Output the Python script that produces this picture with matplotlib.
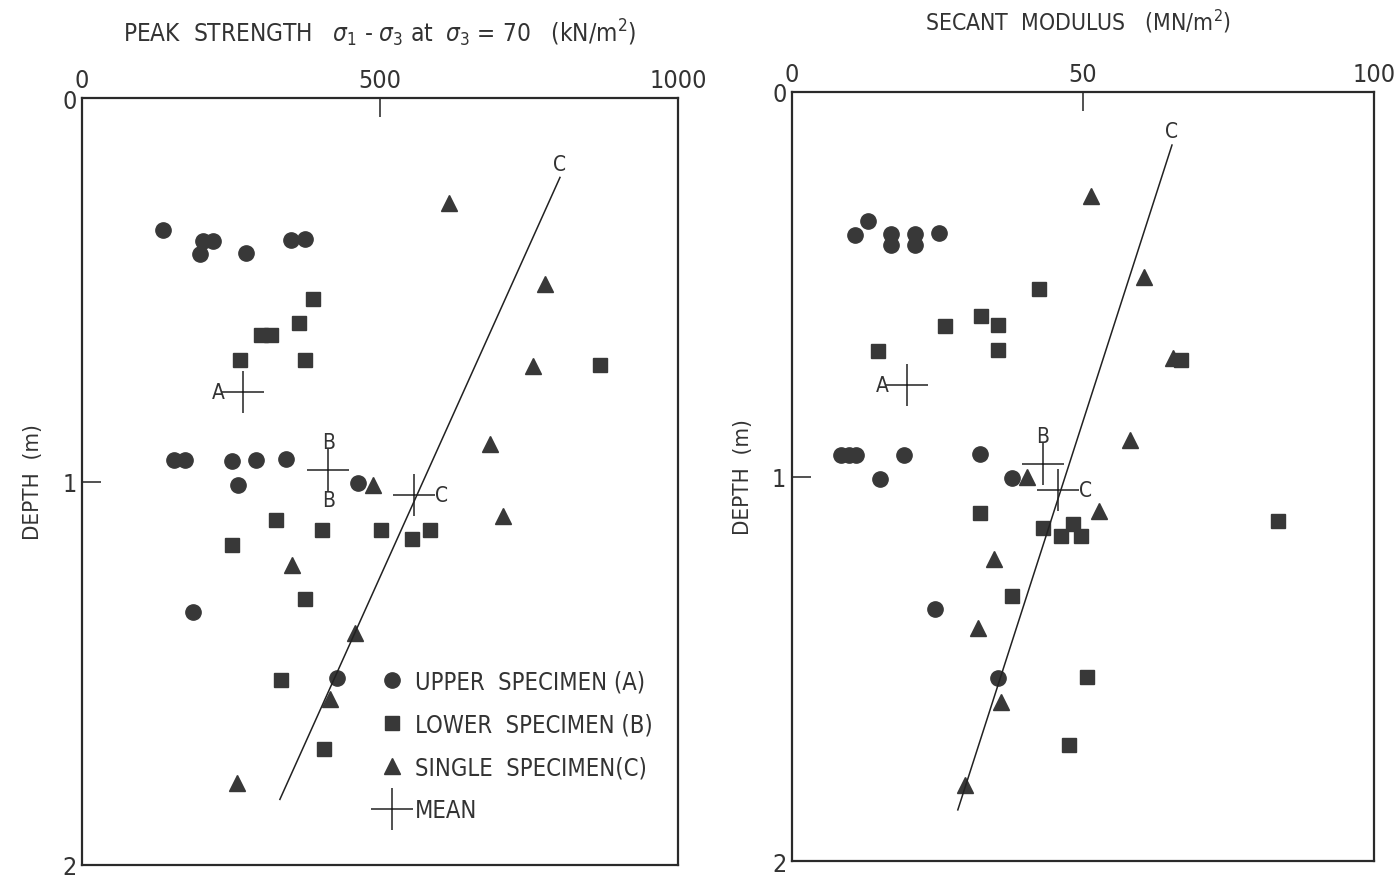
import numpy as np
import matplotlib
matplotlib.use('Agg')
import matplotlib.pyplot as plt

plt.rcParams['font.family'] = ['DejaVu Sans']
plt.rcParams['font.stretch'] = 'condensed'
plt.rcParams['mathtext.fontset'] = 'dejavusans'

# ---- peak strength panel (kN/m2 vs depth m) ----
ps_upper_x = [136, 203, 220, 198, 275, 351, 374, 154, 173, 252, 292, 342, 262, 463, 186, 428]
ps_upper_d = [0.344, 0.372, 0.372, 0.406, 0.403, 0.370, 0.367, 0.943, 0.943, 0.946, 0.943, 0.941, 1.008, 1.003, 1.341, 1.512]
ps_lower_x = [388, 364, 300, 317, 265, 374, 869, 326, 252, 403, 502, 554, 584, 374, 334, 406]
ps_lower_d = [0.525, 0.587, 0.618, 0.618, 0.682, 0.682, 0.695, 1.101, 1.165, 1.127, 1.127, 1.150, 1.127, 1.307, 1.517, 1.698]
ps_single_x = [616, 777, 757, 685, 488, 706, 352, 458, 416, 260]
ps_single_d = [0.274, 0.486, 0.700, 0.902, 1.010, 1.090, 1.217, 1.395, 1.568, 1.786]
ps_mean_x = [270, 413, 557]
ps_mean_d = [0.767, 0.969, 1.036]
ps_line_x = [802, 332]
ps_line_d = [0.207, 1.829]

# ---- secant modulus panel (MN/m2 vs depth m) ----
sm_upper_x = [10.8, 13.1, 17.0, 17.0, 21.1, 21.1, 25.3, 8.4, 9.8, 11.0, 19.2, 32.3, 15.1, 37.8, 24.6, 35.4]
sm_upper_d = [0.372, 0.335, 0.369, 0.398, 0.369, 0.398, 0.367, 0.944, 0.944, 0.944, 0.944, 0.941, 1.006, 1.004, 1.345, 1.524]
sm_lower_x = [42.4, 32.5, 35.4, 26.3, 14.8, 35.4, 66.8, 32.3, 43.1, 48.3, 46.2, 49.7, 83.5, 37.8, 50.7, 47.6]
sm_lower_d = [0.512, 0.583, 0.606, 0.609, 0.674, 0.671, 0.697, 1.095, 1.134, 1.124, 1.155, 1.155, 1.116, 1.311, 1.521, 1.698]
sm_single_x = [51.4, 60.5, 65.5, 58.1, 40.4, 52.7, 34.7, 32.0, 35.9, 29.7]
sm_single_d = [0.270, 0.481, 0.692, 0.905, 1.001, 1.090, 1.215, 1.394, 1.586, 1.802]
sm_mean_x = [19.8, 43.1, 45.7]
sm_mean_d = [0.762, 0.967, 1.035]
sm_line_x = [65.3, 28.5]
sm_line_d = [0.138, 1.867]

ink = '#383838'

fig = plt.figure(figsize=(13.95, 8.78), dpi=100)
ax1 = fig.add_axes([0.0588, 0.0137, 0.4272, 0.8735])
ax2 = fig.add_axes([0.5677, 0.0182, 0.4172, 0.8759])


def panel(ax, ux, ud, lx, ld, sx, sd, mx, md, linex, lined, xmax, xticks):
    ax.plot(ux, ud, 'o', color=ink, ms=11, mec=ink, ls='none', label='UPPER  SPECIMEN (A)')
    ax.plot(lx, ld, 's', color=ink, ms=10, mec=ink, ls='none', label='LOWER  SPECIMEN (B)')
    ax.plot(sx, sd, '^', color=ink, ms=11, mec=ink, ls='none', label='SINGLE  SPECIMEN(C)')
    ax.plot(mx, md, '+', color='#222222', ms=30, mew=1.1, ls='none', label='MEAN')
    ax.plot(linex, lined, '-', color='#222222', lw=1.1)
    ax.set_xlim(0, xmax)
    ax.set_ylim(2, 0)
    ax.xaxis.tick_top()
    ax.set_xticks(xticks)
    ax.set_xticklabels([str(t) for t in xticks])
    ax.set_yticks([0, 1, 2])
    ax.set_yticklabels(['0', '1', '2'])
    ax.tick_params(direction='in', length=14, width=1.2, labelsize=18, colors='#333333', pad=4)
    ax.set_ylabel('DEPTH  (m)', fontsize=16, color='#333333', labelpad=14)
    for s in ax.spines.values():
        s.set_linewidth(1.6)
        s.set_color('#2a2a2a')
    # mean labels
    kw = dict(textcoords='offset points', fontsize=15, color='#333333', va='center', ha='center')
    ax.annotate('A', (mx[0], md[0]), xytext=(-18, 0), **kw)
    ax.annotate('B', (mx[1], md[1]), xytext=(0, 20), **kw)
    ax.annotate('C', (mx[2], md[2]), xytext=(20, 0), **kw)
    ax.annotate('C', (linex[0], lined[0]), xytext=(0, 10), **kw)
    return kw


kw = panel(ax1, ps_upper_x, ps_upper_d, ps_lower_x, ps_lower_d, ps_single_x, ps_single_d,
           ps_mean_x, ps_mean_d, ps_line_x, ps_line_d, 1000, [0, 500, 1000])
ax1.annotate('B', (ps_mean_x[1], ps_mean_d[1]), xytext=(0, -22), **kw)
panel(ax2, sm_upper_x, sm_upper_d, sm_lower_x, sm_lower_d, sm_single_x, sm_single_d,
      sm_mean_x, sm_mean_d, sm_line_x, sm_line_d, 100, [0, 50, 100])

ax1.legend(loc='upper left', bbox_to_anchor=(0.48, 0.27), frameon=False, fontsize=17,
           handlelength=1.0, handletextpad=0.5, labelspacing=0.8, labelcolor='#333333',
           markerscale=1.0, borderpad=0)

fig.text(0.272, 0.962, r'PEAK  STRENGTH   $\sigma_1$ - $\sigma_3$ at  $\sigma_3$ = 70   (kN/m$^2$)',
         fontsize=17.5, color='#333333', ha='center', va='center')
fig.text(0.773, 0.975, 'SECANT  MODULUS   (MN/m$^2$)', fontsize=16.5, color='#333333',
         ha='center', va='center')

fig.savefig('out.png', dpi=100)
